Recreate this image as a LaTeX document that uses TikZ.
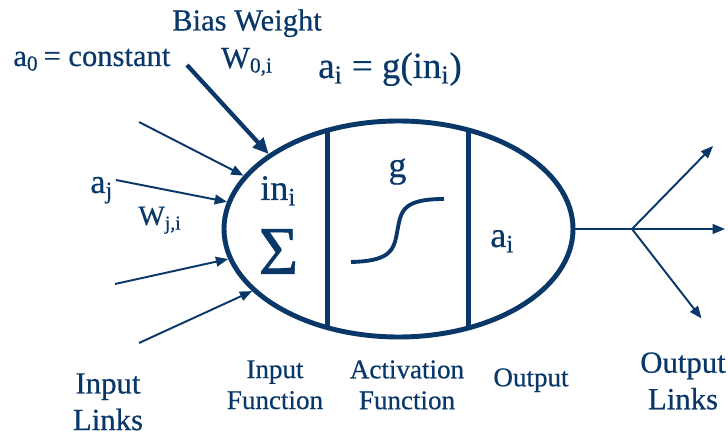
\documentclass[tikz,border=0pt]{standalone}
\usepackage{fontspec}
\setmainfont[FakeBold=0.5]{Liberation Serif}
\usetikzlibrary{arrows.meta, positioning, calc, shapes.geometric}
\definecolor{neuronblue}{HTML}{083768}
\tikzset{
  cellbody/.style={ellipse, draw=neuronblue, line width=2.8pt, inner sep=0pt,
                   minimum width=6.98cm, minimum height=4.32cm},
  divider/.style={line width=2.3pt, neuronblue},
  inarr/.style={-{Triangle[length=7pt, width=5.5pt]}, line width=1.1pt, neuronblue},
  biasarr/.style={-{Triangle[length=9pt, width=8pt]}, line width=2.4pt, neuronblue},
  outarr/.style={-{Triangle[length=7pt, width=5.5pt]}, line width=1.1pt, neuronblue},
  toplbl/.style={font=\fontsize{17.4}{20}\selectfont, text=neuronblue, inner sep=0pt},
  celllbl/.style={font=\fontsize{20.5}{24}\selectfont, text=neuronblue, inner sep=0pt},
  wlbl/.style={font=\fontsize{16}{18}\selectfont, text=neuronblue, inner sep=0pt},
  partlbl/.style={font=\fontsize{15.4}{17.6}\selectfont, text=neuronblue,
                  align=center, inner sep=0pt, anchor=north},
  linklbl/.style={font=\fontsize{17.5}{20.8}\selectfont, text=neuronblue,
                  align=center, inner sep=0pt, anchor=north},
}

\begin{document}
\begin{tikzpicture}
  \useasboundingbox (0,0) rectangle (14.56,8.78);

  % --- neuron body ---
  \node[cellbody] (neuron) at (7.97,4.20) {};
  \begin{scope}
    \clip (7.97,4.20) ellipse [x radius=3.49, y radius=2.16];
    \draw[divider] (6.55,0) -- (6.55,8.78);
    \draw[divider] (9.37,0) -- (9.37,8.78);
  \end{scope}

  % --- input function ---
  \node[celllbl, anchor=base west] (ini) at (5.20,4.78) {in\textsubscript{i}};
  \node[text=neuronblue, inner sep=0pt, anchor=base, font=\fontsize{39}{40}\selectfont]
    (sum) at (5.57,3.30) {Σ};

  % --- activation function ---
  \node[celllbl, anchor=base] (g) at (7.95,5.24) {g};
  \draw[neuronblue, line width=2.2pt] (7.02,3.54) .. controls (7.85,3.56) and (7.88,3.80) .. (7.95,4.18)
    .. controls (8.02,4.56) and (8.05,4.80) .. (8.88,4.80);

  % --- output ---
  \node[celllbl, anchor=base west] (ai) at (9.80,3.84) {a\textsubscript{i}};
  \node[toplbl, anchor=base, font=\fontsize{21}{24}\selectfont] (rule) at (7.80,7.22)
    {a\textsubscript{i} = g(in\textsubscript{i})};

  % --- bias input ---
  \node[toplbl, anchor=base] (biasw) at (4.94,8.17) {Bias Weight};
  \node[toplbl, anchor=base] (w0) at (4.94,7.42) {W\textsubscript{0,i}};
  \node[toplbl, anchor=base west] (a0) at (0.26,7.46) {a\textsubscript{0}\,= constant};
  \coordinate (bias) at (3.74,7.48);
  \draw[biasarr] (bias) -- (neuron.150.6);

  % --- input links ---
  \coordinate (in1) at (2.78,6.34);
  \coordinate (in2) at (2.32,5.18);
  \coordinate (in3) at (2.30,3.10);
  \coordinate (in4) at (2.78,1.92);
  \draw[inarr] (in1) -- (neuron.161.8);
  \draw[inarr] (in2) -- (neuron.171.6);
  \draw[inarr] (in3) -- (neuron.190.6);
  \draw[inarr] (in4) -- (neuron.203.3);
  \node[toplbl, anchor=base west, font=\fontsize{19.5}{22}\selectfont] (aj) at (1.80,4.92) {a\textsubscript{j}};
  \node[wlbl, anchor=base west] (wji) at (2.76,4.28) {W\textsubscript{j,i}};

  % --- output links ---
  \coordinate (branch) at (12.64,4.20);
  \coordinate (out1) at (14.26,5.86);
  \coordinate (out2) at (14.50,4.20);
  \coordinate (out3) at (14.03,2.41);
  \draw[neuronblue, line width=1.1pt] (neuron.east) -- (branch);
  \draw[outarr] (branch) -- (out1);
  \draw[outarr] (branch) -- (out2);
  \draw[outarr] (branch) -- (out3);

  % --- captions ---
  \node[linklbl] (inlinks) at (2.16,1.32) {Input\\Links};
  \node[partlbl] (infunc) at (5.50,1.58) {Input\\Function};
  \node[partlbl] (actfunc) at (8.14,1.58) {Activation\\Function};
  \node[partlbl] (outcap) at (10.62,1.42) {Output};
  \node[linklbl] (outlinks) at (13.66,1.74) {Output\\Links};
\end{tikzpicture}
\end{document}
